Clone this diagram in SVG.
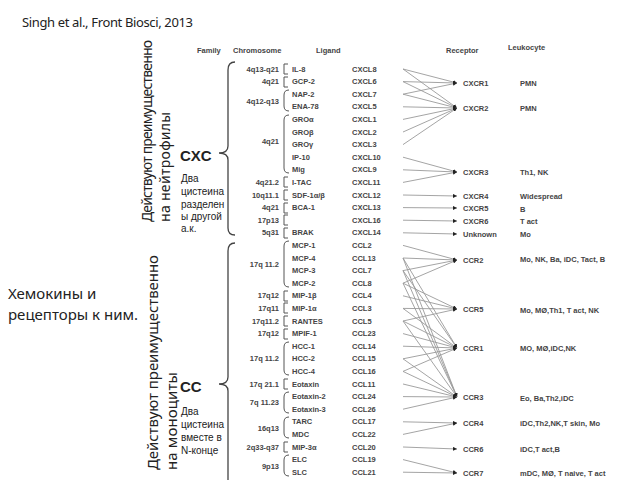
<svg xmlns="http://www.w3.org/2000/svg" width="640" height="480" viewBox="0 0 640 480">
<style>
.t{font-family:"Liberation Sans",Arial,sans-serif;font-size:7.5px;font-weight:bold;fill:#444}
.ch{text-anchor:end}
.br{fill:none;stroke:#555;stroke-width:1}
.ln line{stroke:#9a9a9a;stroke-width:0.9}
.big{font-family:"Noto Sans","Liberation Sans",sans-serif;fill:#222}
.fam{font-family:"Liberation Sans",Arial,sans-serif;fill:#222}
.brace{fill:none;stroke:#444;stroke-width:1.3}
</style>
<defs>
<marker id="ah" viewBox="0 0 6 6" refX="6" refY="3" markerWidth="4" markerHeight="4" markerUnits="userSpaceOnUse" orient="auto">
<path d="M0,0 L6,3 L0,6 Z" fill="#222"/>
</marker>
</defs>
<rect width="640" height="480" fill="#fff"/>

<text class="big" x="22" y="27" font-size="13" textLength="171">Singh et al., Front Biosci, 2013</text>
<g id="title-left">
<text class="big" x="8" y="299" font-size="15">Хемокины и</text>
<text class="big" x="8" y="320" font-size="15">рецепторы к ним.</text>
</g>

<g id="rot-cxc">
<text class="big" font-size="14" transform="translate(152,222) rotate(-90)" textLength="182">Действуют преимущественно</text>
<text class="big" font-size="14" transform="translate(170,222) rotate(-90)" textLength="110">на нейтрофилы</text>
</g>
<g id="rot-cc">
<text class="big" font-size="15" transform="translate(158,470) rotate(-90)" textLength="215">Действуют преимущественно</text>
<text class="big" font-size="15" transform="translate(177,470) rotate(-90)" textLength="98">на моноциты</text>
</g>

<g id="family-cxc">
<text class="fam" x="180" y="161" font-size="15" font-weight="bold">CXC</text>
<text class="fam" x="181" y="182" font-size="10">Два</text>
<text class="fam" x="181" y="195" font-size="10">цистеина</text>
<text class="fam" x="181" y="208" font-size="10">разделен</text>
<text class="fam" x="181" y="220" font-size="10">ы другой</text>
<text class="fam" x="181" y="232" font-size="10">а.к.</text>
<path class="brace" d="M235,62 Q228,62 228,70 V146 Q228,153 219,153 Q228,153 228,160 V228 Q228,235 235,235"/>
</g>
<g id="family-cc">
<text class="fam" x="180" y="392" font-size="15" font-weight="bold">CC</text>
<text class="fam" x="181" y="415" font-size="10">Два</text>
<text class="fam" x="181" y="428" font-size="10">цистеина</text>
<text class="fam" x="181" y="441" font-size="10">вместе в</text>
<text class="fam" x="181" y="454" font-size="10">N-конце</text>
<path class="brace" d="M235,243 Q228,243 228,251 V377 Q228,384 219,384 Q228,384 228,391 V482"/>
</g>

<g id="headers">
<text class="t" x="197" y="53">Family</text>
<text class="t" x="233" y="53">Chromosome</text>
<text class="t" x="316" y="53">Ligand</text>
<text class="t" x="446" y="53">Receptor</text>
<text class="t" x="508" y="50">Leukocyte</text>
</g>

<g id="chromosomes">
<text class="t ch" x="279" y="72">4q13-q21</text>
<text class="t ch" x="279" y="84">4q21</text>
<text class="t ch" x="279" y="104">4q12-q13</text>
<text class="t ch" x="279" y="144">4q21</text>
<text class="t ch" x="279" y="185">4q21.2</text>
<text class="t ch" x="279" y="198">10q11.1</text>
<text class="t ch" x="279" y="210">4q21</text>
<text class="t ch" x="279" y="223">17p13</text>
<text class="t ch" x="279" y="235">5q31</text>
<text class="t ch" x="279" y="267">17q 11.2</text>
<text class="t ch" x="279" y="298">17q12</text>
<text class="t ch" x="279" y="311">17q11</text>
<text class="t ch" x="279" y="324">17q11.2</text>
<text class="t ch" x="279" y="336">17q12</text>
<text class="t ch" x="279" y="361">17q 11.2</text>
<text class="t ch" x="279" y="387">17q 21.1</text>
<text class="t ch" x="279" y="405">7q 11.23</text>
<text class="t ch" x="279" y="431">16q13</text>
<text class="t ch" x="279" y="450">2q33-q37</text>
<text class="t ch" x="279" y="469">9p13</text>
</g>

<g id="brackets">
<path class="br" d="M288,64 H284 V74 H288"/>
<path class="br" d="M288,77 H284 V87 H288"/>
<path class="br" d="M289,90 Q284,90 284,95 V106 Q284,111 289,111"/>
<path class="br" d="M289,115 Q284,115 284,120 V168 Q284,173 289,173"/>
<path class="br" d="M288,177 H284 V187 H288"/>
<path class="br" d="M288,190 H284 V200 H288"/>
<path class="br" d="M288,203 H284 V213 H288"/>
<path class="br" d="M288,215 H284 V225 H288"/>
<path class="br" d="M288,228 H284 V238 H288"/>
<path class="br" d="M289,241 Q284,241 284,246 V282 Q284,287 289,287"/>
<path class="br" d="M288,291 H284 V301 H288"/>
<path class="br" d="M288,303 H284 V313 H288"/>
<path class="br" d="M288,316 H284 V326 H288"/>
<path class="br" d="M288,329 H284 V339 H288"/>
<path class="br" d="M289,342 Q284,342 284,347 V370 Q284,375 289,375"/>
<path class="br" d="M288,379 H284 V389 H288"/>
<path class="br" d="M289,392 Q284,392 284,397 V408 Q284,413 289,413"/>
<path class="br" d="M289,417 Q284,417 284,422 V433 Q284,438 289,438"/>
<path class="br" d="M288,442 H284 V452 H288"/>
<path class="br" d="M289,455 Q284,455 284,460 V471 Q284,476 289,476"/>
</g>

<g id="ligands">
<text class="t" x="292" y="72">IL-8</text>
<text class="t" x="292" y="84">GCP-2</text>
<text class="t" x="292" y="97">NAP-2</text>
<text class="t" x="292" y="109">ENA-78</text>
<text class="t" x="292" y="122">GROα</text>
<text class="t" x="292" y="135">GROβ</text>
<text class="t" x="292" y="147">GROγ</text>
<text class="t" x="292" y="160">IP-10</text>
<text class="t" x="292" y="172">Mig</text>
<text class="t" x="292" y="185">I-TAC</text>
<text class="t" x="292" y="198">SDF-1α/β</text>
<text class="t" x="292" y="210">BCA-1</text>
<text class="t" x="292" y="235">BRAK</text>
<text class="t" x="292" y="248">MCP-1</text>
<text class="t" x="292" y="261">MCP-4</text>
<text class="t" x="292" y="273">MCP-3</text>
<text class="t" x="292" y="286">MCP-2</text>
<text class="t" x="292" y="298">MIP-1β</text>
<text class="t" x="292" y="311">MIP-1α</text>
<text class="t" x="292" y="324">RANTES</text>
<text class="t" x="292" y="336">MPIF-1</text>
<text class="t" x="292" y="349">HCC-1</text>
<text class="t" x="292" y="361">HCC-2</text>
<text class="t" x="292" y="374">HCC-4</text>
<text class="t" x="292" y="387">Eotaxin</text>
<text class="t" x="292" y="399">Eotaxin-2</text>
<text class="t" x="292" y="412">Eotaxin-3</text>
<text class="t" x="292" y="424">TARC</text>
<text class="t" x="292" y="437">MDC</text>
<text class="t" x="292" y="450">MIP-3α</text>
<text class="t" x="292" y="462">ELC</text>
<text class="t" x="292" y="475">SLC</text>
</g>

<g id="systematic">
<text class="t" x="352" y="72">CXCL8</text>
<text class="t" x="352" y="84">CXCL6</text>
<text class="t" x="352" y="97">CXCL7</text>
<text class="t" x="352" y="109">CXCL5</text>
<text class="t" x="352" y="122">CXCL1</text>
<text class="t" x="352" y="135">CXCL2</text>
<text class="t" x="352" y="147">CXCL3</text>
<text class="t" x="352" y="160">CXCL10</text>
<text class="t" x="352" y="172">CXCL9</text>
<text class="t" x="352" y="185">CXCL11</text>
<text class="t" x="352" y="198">CXCL12</text>
<text class="t" x="352" y="210">CXCL13</text>
<text class="t" x="352" y="223">CXCL16</text>
<text class="t" x="352" y="235">CXCL14</text>
<text class="t" x="352" y="248">CCL2</text>
<text class="t" x="352" y="261">CCL13</text>
<text class="t" x="352" y="273">CCL7</text>
<text class="t" x="352" y="286">CCL8</text>
<text class="t" x="352" y="298">CCL4</text>
<text class="t" x="352" y="311">CCL3</text>
<text class="t" x="352" y="324">CCL5</text>
<text class="t" x="352" y="336">CCL23</text>
<text class="t" x="352" y="349">CCL14</text>
<text class="t" x="352" y="361">CCL15</text>
<text class="t" x="352" y="374">CCL16</text>
<text class="t" x="352" y="387">CCL11</text>
<text class="t" x="352" y="399">CCL24</text>
<text class="t" x="352" y="412">CCL26</text>
<text class="t" x="352" y="424">CCL17</text>
<text class="t" x="352" y="437">CCL22</text>
<text class="t" x="352" y="450">CCL20</text>
<text class="t" x="352" y="462">CCL19</text>
<text class="t" x="352" y="475">CCL21</text>
</g>

<g id="connectors" class="ln">
<line x1="403" y1="69" x2="457" y2="83" marker-end="url(#ah)"/>
<line x1="403" y1="69" x2="457" y2="108" marker-end="url(#ah)"/>
<line x1="403" y1="81.6" x2="457" y2="83" marker-end="url(#ah)"/>
<line x1="403" y1="81.6" x2="457" y2="108" marker-end="url(#ah)"/>
<line x1="403" y1="94.2" x2="457" y2="83" marker-end="url(#ah)"/>
<line x1="403" y1="94.2" x2="457" y2="108" marker-end="url(#ah)"/>
<line x1="403" y1="106.8" x2="457" y2="108" marker-end="url(#ah)"/>
<line x1="403" y1="119.4" x2="457" y2="108" marker-end="url(#ah)"/>
<line x1="403" y1="132" x2="457" y2="108" marker-end="url(#ah)"/>
<line x1="403" y1="144.6" x2="457" y2="108" marker-end="url(#ah)"/>
<line x1="403" y1="157.2" x2="457" y2="172" marker-end="url(#ah)"/>
<line x1="403" y1="169.8" x2="457" y2="172" marker-end="url(#ah)"/>
<line x1="403" y1="182.4" x2="457" y2="172" marker-end="url(#ah)"/>
<line x1="403" y1="195" x2="457" y2="196" marker-end="url(#ah)"/>
<line x1="403" y1="207.6" x2="457" y2="208" marker-end="url(#ah)"/>
<line x1="403" y1="220.2" x2="457" y2="221" marker-end="url(#ah)"/>
<line x1="403" y1="232.8" x2="457" y2="234" marker-end="url(#ah)"/>
<line x1="403" y1="245.4" x2="457" y2="260" marker-end="url(#ah)"/>
<line x1="403" y1="258" x2="457" y2="260" marker-end="url(#ah)"/>
<line x1="403" y1="258" x2="457" y2="348" marker-end="url(#ah)"/>
<line x1="403" y1="258" x2="457" y2="397" marker-end="url(#ah)"/>
<line x1="403" y1="270.6" x2="457" y2="260" marker-end="url(#ah)"/>
<line x1="403" y1="270.6" x2="457" y2="348" marker-end="url(#ah)"/>
<line x1="403" y1="270.6" x2="457" y2="397" marker-end="url(#ah)"/>
<line x1="403" y1="283.2" x2="457" y2="260" marker-end="url(#ah)"/>
<line x1="403" y1="283.2" x2="457" y2="309" marker-end="url(#ah)"/>
<line x1="403" y1="283.2" x2="457" y2="397" marker-end="url(#ah)"/>
<line x1="403" y1="295.8" x2="457" y2="309" marker-end="url(#ah)"/>
<line x1="403" y1="308.4" x2="457" y2="309" marker-end="url(#ah)"/>
<line x1="403" y1="308.4" x2="457" y2="348" marker-end="url(#ah)"/>
<line x1="403" y1="321" x2="457" y2="309" marker-end="url(#ah)"/>
<line x1="403" y1="321" x2="457" y2="348" marker-end="url(#ah)"/>
<line x1="403" y1="321" x2="457" y2="397" marker-end="url(#ah)"/>
<line x1="403" y1="333.6" x2="457" y2="348" marker-end="url(#ah)"/>
<line x1="403" y1="346.2" x2="457" y2="348" marker-end="url(#ah)"/>
<line x1="403" y1="358.8" x2="457" y2="348" marker-end="url(#ah)"/>
<line x1="403" y1="358.8" x2="457" y2="397" marker-end="url(#ah)"/>
<line x1="403" y1="371.4" x2="457" y2="348" marker-end="url(#ah)"/>
<line x1="403" y1="371.4" x2="457" y2="397" marker-end="url(#ah)"/>
<line x1="403" y1="384" x2="457" y2="397" marker-end="url(#ah)"/>
<line x1="403" y1="396.6" x2="457" y2="397" marker-end="url(#ah)"/>
<line x1="403" y1="409.2" x2="457" y2="397" marker-end="url(#ah)"/>
<line x1="403" y1="421.8" x2="457" y2="423" marker-end="url(#ah)"/>
<line x1="403" y1="434.4" x2="457" y2="423" marker-end="url(#ah)"/>
<line x1="403" y1="447" x2="457" y2="449" marker-end="url(#ah)"/>
<line x1="403" y1="459.6" x2="457" y2="473" marker-end="url(#ah)"/>
<line x1="403" y1="472.2" x2="457" y2="473" marker-end="url(#ah)"/>
</g>

<g id="receptors">
<text class="t" x="463" y="86">CXCR1</text>
<text class="t" x="463" y="111">CXCR2</text>
<text class="t" x="463" y="175">CXCR3</text>
<text class="t" x="463" y="199">CXCR4</text>
<text class="t" x="463" y="211">CXCR5</text>
<text class="t" x="463" y="224">CXCR6</text>
<text class="t" x="463" y="237">Unknown</text>
<text class="t" x="463" y="263">CCR2</text>
<text class="t" x="463" y="312">CCR5</text>
<text class="t" x="463" y="351">CCR1</text>
<text class="t" x="463" y="400">CCR3</text>
<text class="t" x="463" y="426">CCR4</text>
<text class="t" x="463" y="452">CCR6</text>
<text class="t" x="463" y="476">CCR7</text>
</g>

<g id="leukocytes">
<text class="t" x="520" y="86">PMN</text>
<text class="t" x="520" y="111">PMN</text>
<text class="t" x="520" y="175">Th1, NK</text>
<text class="t" x="520" y="199">Widespread</text>
<text class="t" x="520" y="212">B</text>
<text class="t" x="520" y="224">T act</text>
<text class="t" x="520" y="237">Mo</text>
<text class="t" x="520" y="262">Mo, NK, Ba, iDC, Tact, B</text>
<text class="t" x="520" y="313">Mo, MØ,Th1, T act, NK</text>
<text class="t" x="520" y="351">MO, MØ,iDC,NK</text>
<text class="t" x="520" y="401">Eo, Ba,Th2,iDC</text>
<text class="t" x="520" y="426">iDC,Th2,NK,T skin, Mo</text>
<text class="t" x="520" y="452">iDC,T act,B</text>
<text class="t" x="520" y="476">mDC, MØ, T naive, T act</text>
</g>
</svg>
